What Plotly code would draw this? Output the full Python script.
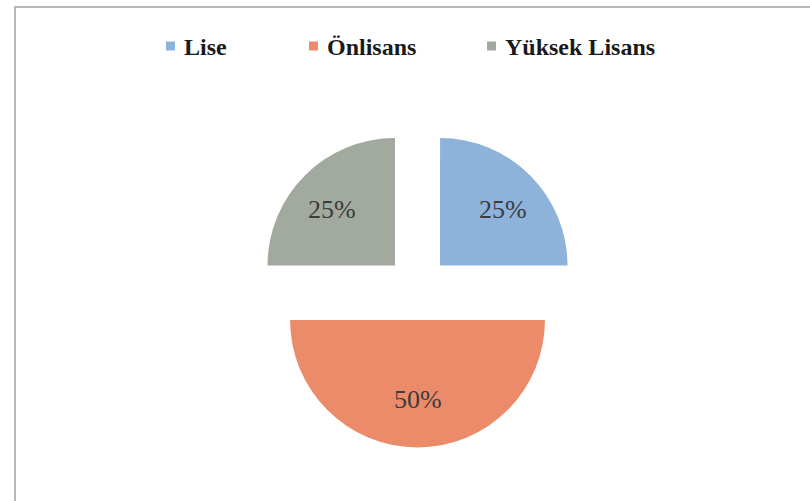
import math
import plotly.graph_objects as go

# Education level shares
categories = ["Lise", "Önlisans", "Yüksek Lisans"]
values = [25, 50, 25]
colors = ["#8db3db", "#eb8b6a", "#a2a99e"]

W, H = 810, 501
PULL = 0.25
DOM_X = [0.3056, 0.7253]
DOM_Y = [0.107, 0.743]
LABEL_FRAC = 0.7  # radial position of the percentage labels (fraction of radius)
LABEL_DY = 7      # downward nudge of the labels, pixels
SERIF = "Liberation Serif, Times New Roman, serif"

# Legend layout (pixels): left edge of each key square, square size, row centre
LEGEND_X = [166, 309, 487]
KEY = 9
LEGEND_Y = 46

fig = go.Figure(
    go.Pie(
        labels=categories,
        values=values,
        sort=False,
        direction="clockwise",
        rotation=0,
        pull=[PULL] * len(values),
        marker=dict(colors=colors, line=dict(width=0)),
        textinfo="none",
        domain=dict(x=DOM_X, y=DOM_Y),
        hoverinfo="label+percent",
        showlegend=False,
    )
)

# Percentage labels placed inside each (pulled) slice
cx = (DOM_X[0] + DOM_X[1]) / 2 * W
cy = (1 - (DOM_Y[0] + DOM_Y[1]) / 2) * H
r = min((DOM_X[1] - DOM_X[0]) * W, (DOM_Y[1] - DOM_Y[0]) * H) / 2 / (1 + PULL)
total = sum(values)
start = 0.0
for v in values:
    mid = start + v / total / 2
    ang = math.radians(90 - mid * 360)  # clockwise from 12 o'clock
    dist = (PULL + LABEL_FRAC) * r
    px = cx + dist * math.cos(ang)
    py = cy - dist * math.sin(ang) + LABEL_DY
    fig.add_annotation(
        x=px / W, y=1 - py / H, xref="paper", yref="paper",
        text=f"{round(v / total * 100)}%", showarrow=False,
        font=dict(family=SERIF, size=26, color="#3c3c3c"),
    )
    start += v / total

# Legend row: coloured key square followed by the category name
for name, col, lx in zip(categories, colors, LEGEND_X):
    fig.add_shape(
        type="rect", xref="paper", yref="paper",
        x0=lx / W, x1=(lx + KEY) / W,
        y0=1 - (LEGEND_Y + KEY / 2) / H, y1=1 - (LEGEND_Y - KEY / 2) / H,
        line=dict(width=0), fillcolor=col,
    )
    fig.add_annotation(
        x=(lx + KEY + 7) / W, y=1 - (LEGEND_Y + 1) / H, xref="paper", yref="paper",
        xanchor="left", yanchor="middle", text=f"<b>{name}</b>", showarrow=False,
        font=dict(family=SERIF, size=24, color="#1a1a1a"),
    )

# Frame around the chart area
fig.add_shape(
    type="rect", xref="paper", yref="paper",
    x0=15 / W, x1=1.02, y0=-0.02, y1=1 - 7 / H,
    line=dict(color="#b8b8b8", width=2), fillcolor="rgba(0,0,0,0)",
)

fig.update_layout(
    width=W,
    height=H,
    margin=dict(l=0, r=0, t=0, b=0),
    paper_bgcolor="white",
    plot_bgcolor="white",
    showlegend=False,
)

fig.write_html("out.html")
